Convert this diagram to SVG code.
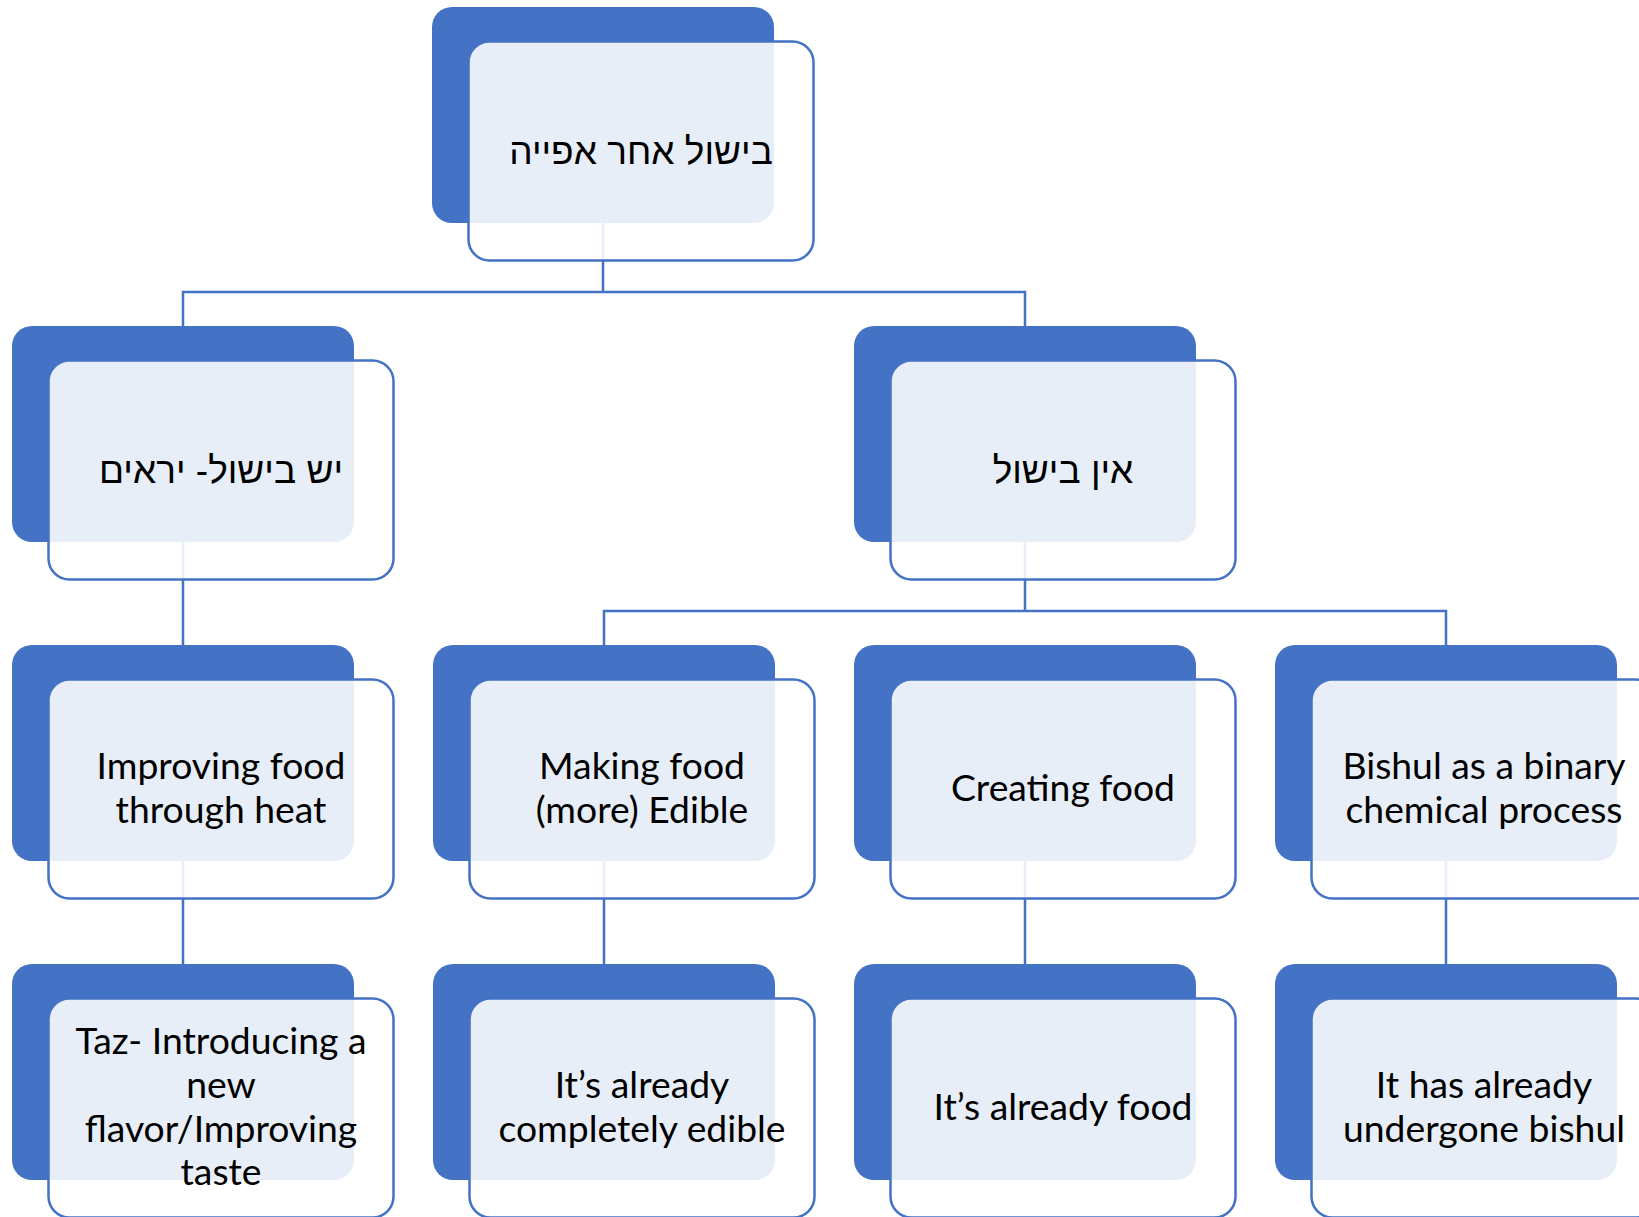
<svg xmlns="http://www.w3.org/2000/svg" width="1639" height="1217" viewBox="0 0 1639 1217">
<style>
.dark{fill:#4472C4}
.box{fill:#FFFFFF;fill-opacity:0.88;stroke:#4472C4;stroke-width:2.5}
.conn{fill:none;stroke:#4472C4;stroke-width:2.5}
.t{font-family:Lato,"Liberation Sans",sans-serif;font-size:37.3px;fill:#000;text-anchor:middle}
.he{font-family:"Liberation Sans","DejaVu Sans",sans-serif;font-size:37px;fill:#000;text-anchor:middle;direction:rtl}
</style>
<rect width="1639" height="1217" fill="#FFFFFF"/>
<g id="connectors">
<path class="conn" d="M603,223 V292 M183,326 V292 H1025 V326"/>
<path class="conn" d="M183,541 V645"/>
<path class="conn" d="M1025,541 V611 M604,645 V611 H1446 V645"/>
<path class="conn" d="M183,860 V964 M604,860 V964 M1025,860 V964 M1446,860 V964"/>
</g>
<g id="root">
<rect class="dark" x="432" y="7" width="342" height="216" rx="20"/>
<rect class="box" x="468.5" y="41.5" width="345" height="219" rx="21"/>
<text class="he" x="641" y="164">בישול אחר אפייה</text>
</g>
<g id="yesh-bishul">
<rect class="dark" x="12" y="326" width="342" height="216" rx="20"/>
<rect class="box" x="48.5" y="360.5" width="345" height="219" rx="21"/>
<text class="he" x="221" y="483">יש בישול- יראים</text>
</g>
<g id="ein-bishul">
<rect class="dark" x="854" y="326" width="342" height="216" rx="20"/>
<rect class="box" x="890.5" y="360.5" width="345" height="219" rx="21"/>
<text class="he" x="1063" y="483">אין בישול</text>
</g>
<g id="improving-food">
<rect class="dark" x="12" y="645" width="342" height="216" rx="20"/>
<rect class="box" x="48.5" y="679.5" width="345" height="219" rx="21"/>
<text class="t" x="221" y="779">Improving food</text>
<text class="t" x="221" y="823">through heat</text>
</g>
<g id="making-edible">
<rect class="dark" x="433" y="645" width="342" height="216" rx="20"/>
<rect class="box" x="469.5" y="679.5" width="345" height="219" rx="21"/>
<text class="t" x="642" y="779">Making food</text>
<text class="t" x="642" y="823">(more) Edible</text>
</g>
<g id="creating-food">
<rect class="dark" x="854" y="645" width="342" height="216" rx="20"/>
<rect class="box" x="890.5" y="679.5" width="345" height="219" rx="21"/>
<text class="t" x="1063" y="801">Creating food</text>
</g>
<g id="binary-process">
<rect class="dark" x="1275" y="645" width="342" height="216" rx="20"/>
<rect class="box" x="1311.5" y="679.5" width="345" height="219" rx="21"/>
<text class="t" x="1484" y="779">Bishul as a binary</text>
<text class="t" x="1484" y="823">chemical process</text>
</g>
<g id="taz">
<rect class="dark" x="12" y="964" width="342" height="216" rx="20"/>
<rect class="box" x="48.5" y="998.5" width="345" height="219" rx="21"/>
<text class="t" x="221" y="1054">Taz- Introducing a</text>
<text class="t" x="221" y="1098">new</text>
<text class="t" x="221" y="1142">flavor/Improving</text>
<text class="t" x="221" y="1185">taste</text>
</g>
<g id="already-edible">
<rect class="dark" x="433" y="964" width="342" height="216" rx="20"/>
<rect class="box" x="469.5" y="998.5" width="345" height="219" rx="21"/>
<text class="t" x="642" y="1098">It’s already</text>
<text class="t" x="642" y="1142">completely edible</text>
</g>
<g id="already-food">
<rect class="dark" x="854" y="964" width="342" height="216" rx="20"/>
<rect class="box" x="890.5" y="998.5" width="345" height="219" rx="21"/>
<text class="t" x="1063" y="1120">It’s already food</text>
</g>
<g id="already-bishul">
<rect class="dark" x="1275" y="964" width="342" height="216" rx="20"/>
<rect class="box" x="1311.5" y="998.5" width="345" height="219" rx="21"/>
<text class="t" x="1484" y="1098">It has already</text>
<text class="t" x="1484" y="1142">undergone bishul</text>
</g>
</svg>
